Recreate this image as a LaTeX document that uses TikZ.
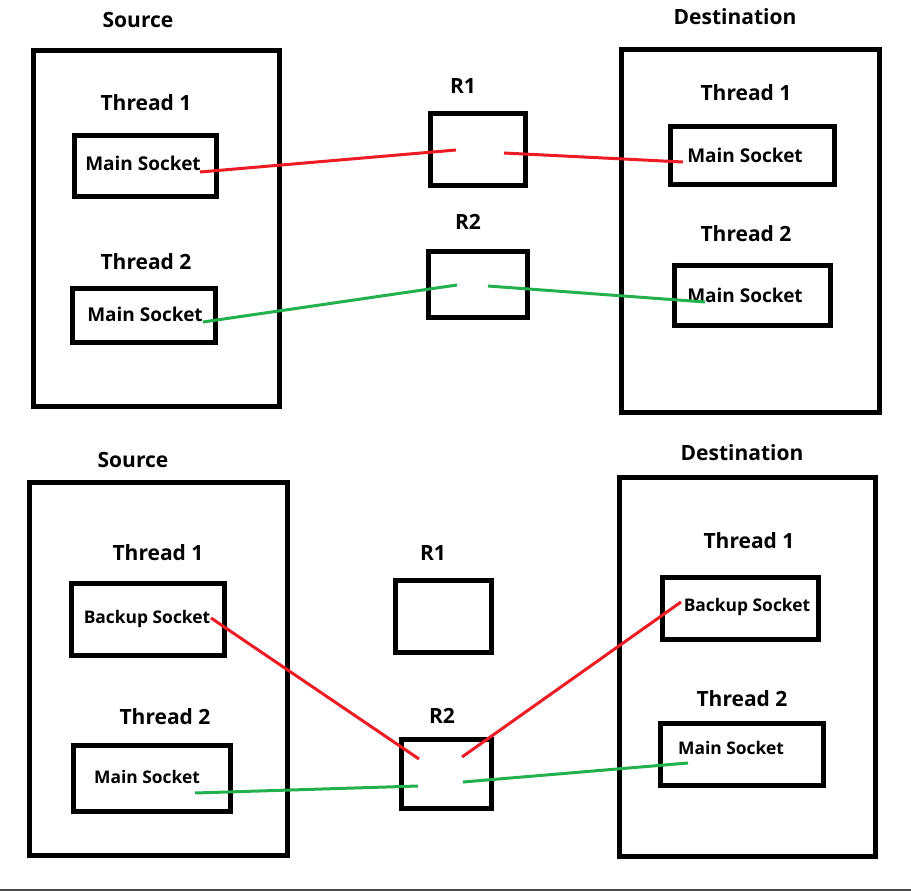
\documentclass[tikz,border=0pt]{standalone}
\usepackage{fontspec}
\setmainfont{Open Sans}
\definecolor{pRed}{HTML}{ED1C24}
\definecolor{pGreen}{HTML}{22B14C}
\tikzset{
	box/.style={draw, line width=5pt, inner sep=0pt},
	lbl/.style={inner sep=0pt, text height=15pt, text depth=0pt, font=\bfseries\fontsize{21}{24}\selectfont},
	sock/.style={inner sep=0pt, text height=13pt, text depth=0pt, font=\bfseries\fontsize{#1}{20}\selectfont},
	redln/.style={draw=pRed, line width=3pt},
	grnln/.style={draw=pGreen, line width=3pt}
}
\begin{document}
\begin{tikzpicture}[x=1pt, y=-1pt]
	\useasboundingbox (0,0) rectangle (911,891);
	\node[box, minimum width=246pt, minimum height=356pt] (srcA) at (156.5,228.5) {};
	\node[box, minimum width=142pt, minimum height=61pt] (sockA1) at (145.5,166) {};
	\node[box, minimum width=143pt, minimum height=54pt] (sockA2) at (144,315.5) {};
	\node[box, minimum width=95pt, minimum height=72pt] (rA1) at (478,149.5) {};
	\node[box, minimum width=99pt, minimum height=66pt] (rA2) at (478,284.5) {};
	\node[box, minimum width=258pt, minimum height=363pt] (dstA) at (750.5,231) {};
	\node[box, minimum width=164pt, minimum height=58pt] (sockA3) at (752.5,155.5) {};
	\node[box, minimum width=156pt, minimum height=60pt] (sockA4) at (752.5,295.5) {};
	\node[lbl] (srcAl) at (138,20) {Source};
	\node[lbl] (thA1) at (146,103) {Thread 1};
	\node[lbl] (thA2) at (146,262) {Thread 2};
	\node[lbl] (rA1l) at (463,86) {R1};
	\node[lbl] (rA2l) at (468,222) {R2};
	\node[lbl] (dstAl) at (735,17) {Destination};
	\node[lbl] (thA3) at (746,93) {Thread 1};
	\node[lbl] (thA4) at (746,234) {Thread 2};
	\node[sock=19] (msA1) at (143,164) {Main Socket};
	\node[sock=19] (msA2) at (145,315) {Main Socket};
	\node[sock=19] (msA3) at (745,156) {Main Socket};
	\node[sock=19] (msA4) at (745,296) {Main Socket};
	\coordinate (a1) at (200,172);
	\coordinate (a2) at (456,150);
	\coordinate (a3) at (504,153);
	\coordinate (a4) at (683,162);
	\coordinate (a5) at (203,322);
	\coordinate (a6) at (457,285);
	\coordinate (a7) at (488,286);
	\coordinate (a8) at (705,302);
	\draw[redln] (a1) -- (a2) (a3) -- (a4);
	\draw[grnln] (a5) -- (a6) (a7) -- (a8);
	\node[box, minimum width=258pt, minimum height=373pt] (srcB) at (158.5,669) {};
	\node[box, minimum width=153pt, minimum height=72pt] (sockB1) at (148,619.5) {};
	\node[box, minimum width=157pt, minimum height=66pt] (sockB2) at (152,778.5) {};
	\node[box, minimum width=96pt, minimum height=72pt] (rB1) at (443.5,616.5) {};
	\node[box, minimum width=90pt, minimum height=69pt] (rB2) at (446.5,774) {};
	\node[box, minimum width=256pt, minimum height=379pt] (dstB) at (747.5,667) {};
	\node[box, minimum width=156pt, minimum height=62pt] (sockB3) at (740.5,608.5) {};
	\node[box, minimum width=163pt, minimum height=62pt] (sockB4) at (742,754.5) {};
	\node[lbl] (srcBl) at (133,460) {Source};
	\node[lbl] (thB1) at (158,553) {Thread 1};
	\node[lbl] (thB2) at (165,717) {Thread 2};
	\node[lbl] (rB1l) at (433,553) {R1};
	\node[lbl] (rB2l) at (442,716) {R2};
	\node[lbl] (dstBl) at (742,453) {Destination};
	\node[lbl] (thB3) at (749,541) {Thread 1};
	\node[lbl] (thB4) at (742,699) {Thread 2};
	\node[sock=17.4] (bsB1) at (147,617) {Backup Socket};
	\node[sock=17.4] (msB2) at (147,777) {Main Socket};
	\node[sock=17.4] (bsB3) at (747,605) {Backup Socket};
	\node[sock=17.4] (msB4) at (731,748) {Main Socket};
	\coordinate (b1) at (211,618);
	\coordinate (b2) at (419,759);
	\coordinate (b3) at (462,757);
	\coordinate (b4) at (681,602);
	\coordinate (b5) at (195,793);
	\coordinate (b6) at (418,786);
	\coordinate (b7) at (463,782);
	\coordinate (b8) at (688,763);
	\draw[redln] (b1) -- (b2) (b3) -- (b4);
	\draw[grnln] (b5) -- (b6) (b7) -- (b8);
	\coordinate (baseL) at (0,889.5);
	\coordinate (baseR) at (911,889.5);
	\draw[black!70, line width=2pt] (baseL) -- (baseR);
\end{tikzpicture}
\end{document}
